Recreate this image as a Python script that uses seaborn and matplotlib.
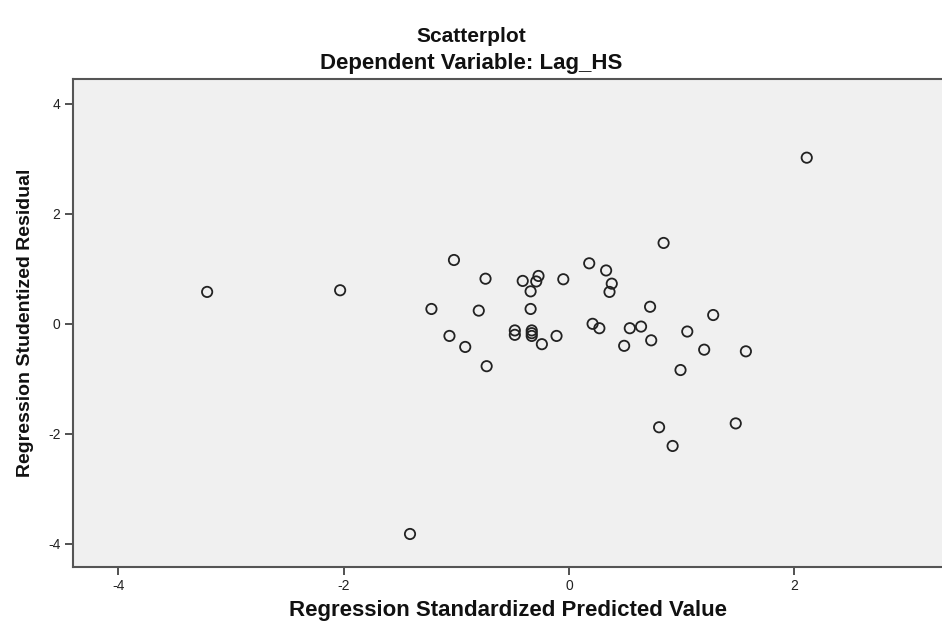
import matplotlib
matplotlib.use('Agg')
import matplotlib.pyplot as plt
import seaborn as sns
import pandas as pd

# values (standardized predicted value, studentized residual)
pred = [-3.21, -2.03, -1.41, -1.22, -1.06, -1.02, -0.92, -0.80, -0.74, -0.73,
        -0.48, -0.48, -0.41, -0.34, -0.34, -0.33, -0.33, -0.33, -0.29, -0.27,
        -0.24, -0.11, -0.05, 0.18, 0.21, 0.27, 0.33, 0.38, 0.36, 0.49,
        0.54, 0.64, 0.72, 0.73, 0.80, 0.84, 0.92, 0.99, 1.05, 1.20,
        1.28, 1.48, 1.57, 2.11]
resid = [0.58, 0.61, -3.82, 0.27, -0.22, 1.16, -0.42, 0.24, 0.82, -0.77,
         -0.12, -0.20, 0.78, 0.27, 0.59, -0.12, -0.17, -0.22, 0.77, 0.87,
         -0.37, -0.22, 0.81, 1.10, 0.00, -0.08, 0.97, 0.73, 0.58, -0.40,
         -0.08, -0.05, 0.31, -0.30, -1.88, 1.47, -2.22, -0.84, -0.14, -0.47,
         0.16, -1.81, -0.50, 3.02]

x_ticks = [-4, -2, 0, 2]
y_ticks = [-4, -2, 0, 2, 4]

df = pd.DataFrame({'pred': pred, 'resid': resid})

sns.set_style('white')
plt.rcParams['font.family'] = ['Liberation Sans', 'DejaVu Sans']
plt.rcParams['axes.unicode_minus'] = False

fig = plt.figure(figsize=(9.42, 6.27), dpi=100)
ax = fig.add_axes([0.0775, 0.0957, 0.9225, 0.7783])
ax.set_facecolor('#f0f0f0')

sns.scatterplot(data=df, x='pred', y='resid', ax=ax, s=55,
                facecolor='none', edgecolor='#222222', linewidth=1.3)

ax.set_xlim(-4.40, 3.31)
ax.set_ylim(-4.42, 4.45)
ax.set_xticks(x_ticks)
ax.set_yticks(y_ticks)
ax.tick_params(axis='both', direction='out', length=6, width=1.2,
               color='#333333', labelsize=10, labelcolor='#222222', pad=3,
               bottom=True, left=True)

for side in ['left', 'bottom', 'top']:
    ax.spines[side].set_color('#555555')
    ax.spines[side].set_linewidth(1.5)
ax.spines['right'].set_visible(False)

ax.set_xlabel('Regression Standardized Predicted Value', fontsize=16,
              fontweight='bold', labelpad=5, color='#111111')
ax.set_ylabel('Regression Studentized Residual', fontsize=14,
              fontweight='bold', labelpad=10, color='#111111')

fig.text(0.5, 1 - 37 / 627, 'Scatterplot', ha='center', va='center',
         fontsize=15, fontweight='bold', color='#111111')
fig.text(0.5, 1 - 64 / 627, 'Dependent Variable: Lag_HS', ha='center',
         va='center', fontsize=16, fontweight='bold', color='#111111')

fig.savefig('out.png', dpi=100)
